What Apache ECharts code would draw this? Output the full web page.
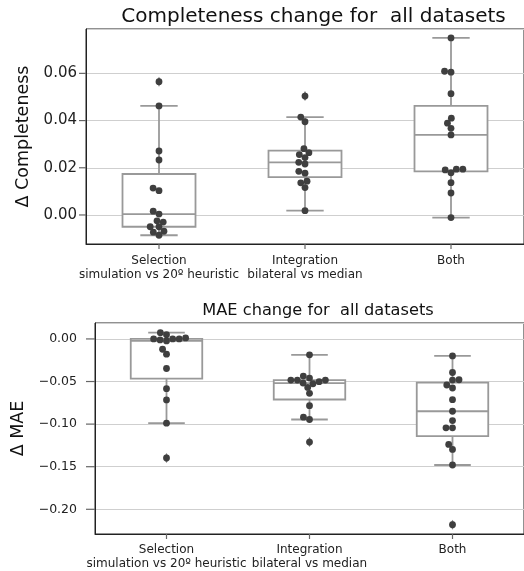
<!DOCTYPE html>
<html>
<head>
<meta charset="utf-8">
<script src="https://cdn.jsdelivr.net/npm/echarts@6/dist/echarts.min.js"></script>
<style>
  html, body { margin: 0; padding: 0; background: #fff; }
  #chart { width: 524px; height: 571px; }
</style>
</head>
<body>
<div id="chart"></div>
<script>
// Comparison groups shown on both panels
const categories = ['Selection\nsimulation vs 20º heuristic', 'Integration\nbilateral vs median', 'Both'];

// Δ Completeness per dataset
const completenessSelection = [0.0565, 0.0462, 0.0271, 0.0233, 0.0114, 0.0103, 0.0016, 0.0004, -0.0025, -0.0030, -0.0050, -0.0050, -0.0069, -0.0073, -0.0086];
const completenessIntegration = [0.0504, 0.0415, 0.0395, 0.0281, 0.0264, 0.0256, 0.0243, 0.0223, 0.0216, 0.0185, 0.0177, 0.0143, 0.0136, 0.0116, 0.0018];
const completenessBoth = [0.0750, 0.0609, 0.0605, 0.0514, 0.0410, 0.0389, 0.0367, 0.0339, 0.0194, 0.0194, 0.0191, 0.0179, 0.0137, 0.0093, -0.0011];

// Δ MAE per dataset
const maeSelection = [0.0074, 0.0050, 0.0012, 0.0000, 0.0000, 0.0000, -0.0012, -0.0023, -0.0121, -0.0179, -0.0347, -0.0584, -0.0716, -0.0989, -0.1398];
const maeIntegration = [-0.0187, -0.0436, -0.0459, -0.0483, -0.0483, -0.0483, -0.0502, -0.0518, -0.0526, -0.0569, -0.0639, -0.0783, -0.0919, -0.0946, -0.1211];
const maeBoth = [-0.0199, -0.0394, -0.0479, -0.0483, -0.0541, -0.0576, -0.0713, -0.0849, -0.0958, -0.1043, -0.1043, -0.1238, -0.1297, -0.1480, -0.2181];

// Axis ranges and tick positions
const completenessRange = [-0.0123, 0.0788];
const maeRange = [-0.229, 0.0187];
const completenessTicks = [0, 0.02, 0.04, 0.06];
const maeTicks = [0, -0.05, -0.10, -0.15, -0.20];

const titles = ['Completeness change for  all datasets', 'MAE change for  all datasets'];
const yNames = ['Δ Completeness', 'Δ MAE'];

const panels = [
  [completenessSelection, completenessIntegration, completenessBoth],
  [maeSelection, maeIntegration, maeBoth]
];
const tickSets = [completenessTicks, maeTicks];

const FONT = 'DejaVu Sans';
const BOX_LINE = '#999999';
const DOT = '#3f3f3f';
const GRID_LINE = '#cfcfcf';
const FRAME = '#222222';
const TICK = '#666666';

// numpy-style linear percentile
function percentile(sorted, p) {
  const pos = (sorted.length - 1) * p;
  const lo = Math.floor(pos), hi = Math.ceil(pos);
  return sorted[lo] + (sorted[hi] - sorted[lo]) * (pos - lo);
}

// Box statistics with 1.5 IQR whiskers; points beyond are fliers
function boxStats(values) {
  const s = values.slice().sort((a, b) => a - b);
  const q1 = percentile(s, 0.25), med = percentile(s, 0.5), q3 = percentile(s, 0.75);
  const iqr = q3 - q1;
  const loFence = q1 - 1.5 * iqr, hiFence = q3 + 1.5 * iqr;
  const inside = s.filter(v => v >= loFence && v <= hiFence);
  const fliers = s.filter(v => v < loFence || v > hiFence);
  return { low: inside[0], q1, med, q3, high: inside[inside.length - 1], fliers };
}

function renderBox(params, api) {
  const i = api.value(0);
  const x = api.coord([i, api.value(3)])[0];
  const yLow = api.coord([i, api.value(1)])[1];
  const yQ1 = api.coord([i, api.value(2)])[1];
  const yMed = api.coord([i, api.value(3)])[1];
  const yQ3 = api.coord([i, api.value(4)])[1];
  const yHigh = api.coord([i, api.value(5)])[1];
  const unit = api.size([1, 0])[0];
  const half = unit * 0.25;
  const cap = unit * 0.128;
  const st = { stroke: BOX_LINE, lineWidth: 1.8, fill: null };
  return {
    type: 'group',
    children: [
      { type: 'line', shape: { x1: x, y1: yQ3, x2: x, y2: yHigh }, style: st },
      { type: 'line', shape: { x1: x, y1: yQ1, x2: x, y2: yLow }, style: st },
      { type: 'line', shape: { x1: x - cap, y1: yHigh, x2: x + cap, y2: yHigh }, style: st },
      { type: 'line', shape: { x1: x - cap, y1: yLow, x2: x + cap, y2: yLow }, style: st },
      { type: 'rect', shape: { x: x - half, y: yQ3, width: 2 * half, height: yQ1 - yQ3 },
        style: { fill: '#ffffff', stroke: BOX_LINE, lineWidth: 1.8 } },
      { type: 'line', shape: { x1: x - half, y1: yMed, x2: x + half, y2: yMed }, style: st }
    ]
  };
}

// Tick marks outside the frame: [axis kind (0 = y, 1 = x), value]
function makeTickRenderer(yMin, yLen) {
  return function (params, api) {
    const kind = api.value(0), v = api.value(1);
    const st = { stroke: TICK, lineWidth: 1.2 };
    if (kind === 0) {
      const p = api.coord([-0.5, v]);
      return { type: 'line', shape: { x1: p[0] - yLen, y1: p[1], x2: p[0], y2: p[1] }, style: st };
    }
    const p = api.coord([v, yMin]);
    return { type: 'line', shape: { x1: p[0], y1: p[1], x2: p[0], y2: p[1] + 5 }, style: st };
  };
}

function tickLabel(v) {
  const s = Math.abs(v).toFixed(2);
  return v < -1e-9 ? '\u2212' + s : s;
}

const gridDefs = [
  { left: 86, top: 29, right: -8, height: 215 },
  { left: 95, top: 323, right: -8, height: 212 }
];
const ranges = [completenessRange, maeRange];
const labelSizes = [15, 12.5];
const labelMargins = [9, 18];
const tickLengths = [7, 9];
const titleSizes = [20, 16.2];
const titleTops = [2, 298];
const titleCenters = [308.5, 313];
const nameGaps = [54, 55];
const xLabelMargins = [10, 9];

const option = {
  animation: false,
  backgroundColor: '#ffffff',
  textStyle: { fontFamily: FONT },
  title: titles.map((t, g) => ({
    text: t,
    left: titleCenters[g],
    textAlign: 'center',
    top: titleTops[g],
    textStyle: { fontFamily: FONT, fontSize: titleSizes[g], fontWeight: 'normal', color: '#111' }
  })),
  grid: gridDefs.map(gd => Object.assign({
    show: true, borderColor: FRAME, borderWidth: 1, containLabel: false
  }, gd)),
  xAxis: [],
  yAxis: [],
  series: []
};

for (let g = 0; g < 2; g++) {
  option.xAxis.push({
    type: 'category', gridIndex: g, data: categories, position: 'bottom',
    axisLine: { show: true, onZero: false, lineStyle: { color: FRAME, width: 1 } },
    axisTick: { show: false },
    axisLabel: { fontFamily: FONT, fontSize: 12, color: '#222', lineHeight: 14,
                 margin: xLabelMargins[g], interval: 0, hideOverlap: false },
    splitLine: { show: false }
  });
  option.xAxis.push({
    type: 'value', gridIndex: g, min: -0.5, max: 2.5, position: 'top',
    axisLine: { show: false, onZero: false }, axisTick: { show: false },
    axisLabel: { show: false }, splitLine: { show: false }
  });
  option.yAxis.push({
    type: 'value', gridIndex: g, min: ranges[g][0], max: ranges[g][1], position: 'left',
    name: yNames[g], nameLocation: 'middle', nameGap: nameGaps[g],
    nameTextStyle: { fontFamily: FONT, fontSize: 17.5, color: '#111' },
    axisLine: { show: true, onZero: false, lineStyle: { color: FRAME, width: 1 } },
    axisTick: { show: false },
    axisLabel: { fontFamily: FONT, fontSize: labelSizes[g], color: '#222', margin: labelMargins[g],
                 showMinLabel: false, showMaxLabel: false, formatter: tickLabel },
    splitLine: { show: true, lineStyle: { color: GRID_LINE, width: 1 } }
  });

  // axis tick marks
  option.series.push({
    type: 'custom', xAxisIndex: 2 * g + 1, yAxisIndex: g, z: 1, clip: false, silent: true,
    renderItem: makeTickRenderer(ranges[g][0], tickLengths[g]),
    encode: { x: -1, y: -1 },
    data: tickSets[g].map(v => [0, v]).concat(categories.map((c, i) => [1, i]))
  });

  const stats = panels[g].map(boxStats);
  option.series.push({
    type: 'custom', xAxisIndex: 2 * g + 1, yAxisIndex: g, z: 2,
    renderItem: renderBox,
    encode: { x: 0, y: [1, 2, 3, 4, 5] },
    data: stats.map((s, i) => [i, s.low, s.q1, s.med, s.q3, s.high])
  });
  const fliers = [];
  stats.forEach((s, i) => s.fliers.forEach(v => fliers.push([i, v])));
  option.series.push({
    type: 'scatter', xAxisIndex: 2 * g + 1, yAxisIndex: g, z: 3,
    symbol: 'diamond', symbolSize: [6, 10],
    itemStyle: { color: '#555555' },
    data: fliers
  });
  option.series.push({
    id: 'swarm' + g,
    type: 'scatter', xAxisIndex: 2 * g + 1, yAxisIndex: g, z: 4,
    symbol: 'circle', symbolSize: 6.8,
    itemStyle: { color: DOT, opacity: 1 },
    data: panels[g].flatMap((vals, i) => vals.map(v => [i, v]))
  });
}

const chart = echarts.init(document.getElementById('chart'), null, { renderer: 'canvas' });
chart.setOption(option);

// Beeswarm layout in pixel space, then mapped back to the hidden x value axis
const DIAM = 6.2;
function swarmOffsets(yPix) {
  const order = yPix.map((y, k) => k).sort((a, b) => yPix[b] - yPix[a]);
  const placed = [];
  const out = new Array(yPix.length).fill(0);
  order.forEach(k => {
    const y = yPix[k];
    const neighbors = [];
    for (let j = placed.length - 1; j >= 0; j--) {
      if (Math.abs(y - placed[j].y) < DIAM) neighbors.push(placed[j]); else break;
    }
    const cands = [0];
    let leftFirst = true;
    neighbors.forEach(n => {
      const dy = y - n.y;
      const dx = Math.sqrt(Math.max(DIAM * DIAM - dy * dy, 0)) * 1.05;
      if (leftFirst) cands.push(n.x - dx, n.x + dx); else cands.push(n.x + dx, n.x - dx);
      leftFirst = !leftFirst;
    });
    const sorted = cands.map((c, idx) => ({ c, idx })).sort((a, b) => Math.abs(a.c) - Math.abs(b.c) || a.idx - b.idx);
    let chosen = sorted[sorted.length - 1].c;
    for (const cand of sorted) {
      const ok = neighbors.every(n => (n.x - cand.c) ** 2 + (n.y - y) ** 2 >= DIAM * DIAM - 1e-6);
      if (ok) { chosen = cand.c; break; }
    }
    placed.push({ x: chosen, y });
    out[k] = chosen;
  });
  return out;
}

const updates = [];
for (let g = 0; g < 2; g++) {
  const finder = { xAxisIndex: 2 * g + 1, yAxisIndex: g };
  const p0 = chart.convertToPixel(finder, [0, 0]);
  const p1 = chart.convertToPixel(finder, [1, 0]);
  const pxPerUnit = p1[0] - p0[0];
  const data = [];
  panels[g].forEach((vals, i) => {
    const yPix = vals.map(v => chart.convertToPixel(finder, [i, v])[1]);
    const offs = swarmOffsets(yPix);
    vals.forEach((v, k) => data.push([i + offs[k] / pxPerUnit, v]));
  });
  updates.push({ id: 'swarm' + g, data });
}
chart.setOption({ series: updates });
</script>
</body>
</html>
